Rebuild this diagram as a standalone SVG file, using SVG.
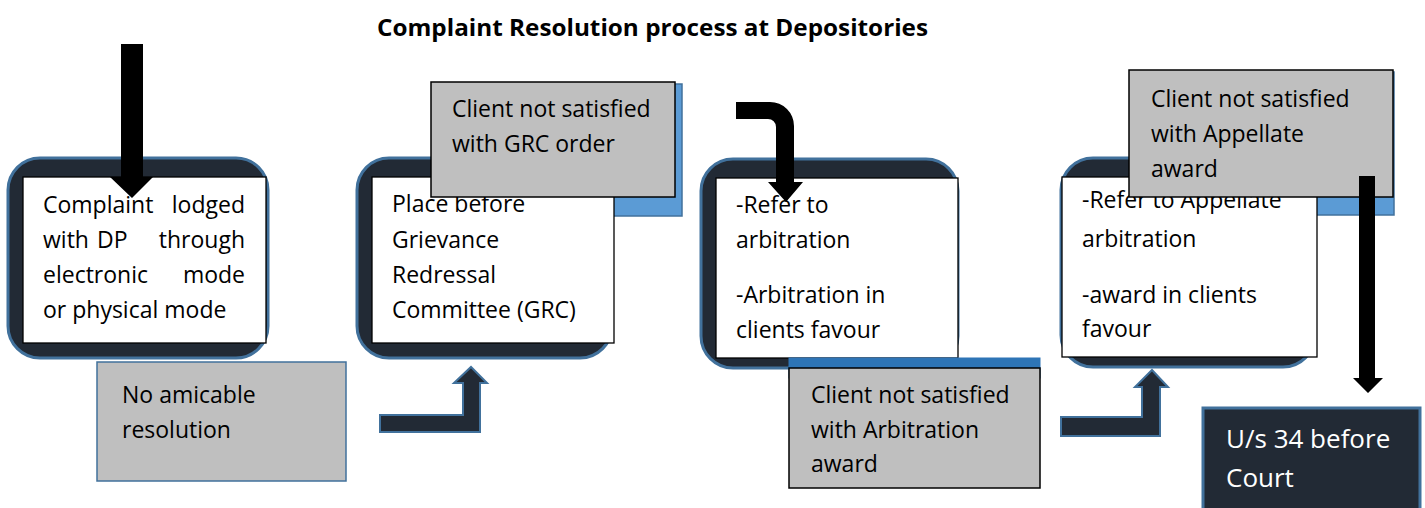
<svg xmlns="http://www.w3.org/2000/svg" width="1425" height="508" viewBox="0 0 1425 508">
<style>
.bg{fill:#ffffff}
.dark{fill:#222a35;stroke:#41719c;stroke-width:3}
.white{fill:#ffffff;stroke:#000000;stroke-width:1.3}
.gray{fill:#bfbfbf;stroke:#000000;stroke-width:1.5}
.grayb{fill:#bfbfbf;stroke:#41719c;stroke-width:1.5}
.shadow{fill:#5b9bd5;stroke:#41719c;stroke-width:1.5}
.t{font-family:"Open Sans","Liberation Sans",sans-serif;font-size:23px;fill:#000000}
.tw{font-family:"Open Sans","Liberation Sans",sans-serif;font-size:26px;fill:#ffffff}
.title{font-family:"Open Sans","Liberation Sans",sans-serif;font-size:23.5px;font-weight:700;fill:#000000}
.blk{fill:#000000}
.darr{fill:#222a35;stroke:#41719c;stroke-width:2}
</style>
<rect class="bg" x="0" y="0" width="1425" height="508"/>
<text class="title" x="377" y="36" textLength="551" lengthAdjust="spacingAndGlyphs">Complaint Resolution process at Depositories</text>

<g id="node1">
<rect class="dark" x="8" y="158" width="260" height="200" rx="32" ry="32"/>
<rect class="white" x="23" y="177" width="243" height="166"/>
<text class="t" x="43" y="213">Complaint</text>
<text class="t" x="245" y="213" text-anchor="end">lodged</text>
<text class="t" x="43" y="248">with</text>
<text class="t" x="97" y="248">DP</text>
<text class="t" x="245" y="248" text-anchor="end">through</text>
<text class="t" x="43" y="283">electronic</text>
<text class="t" x="245" y="283" text-anchor="end">mode</text>
<text class="t" x="43" y="318">or physical mode</text>
</g>

<g id="node-no-amicable">
<rect class="grayb" x="97" y="362" width="249" height="119"/>
<text class="t" x="122" y="403">No amicable</text>
<text class="t" x="122" y="438">resolution</text>
</g>

<g id="node2">
<rect class="dark" x="357" y="158" width="255" height="200" rx="32" ry="32"/>
<rect class="shadow" x="437" y="84" width="245" height="132"/>
<rect class="white" x="372" y="177" width="242" height="166"/>
<text class="t" x="392" y="212">Place before</text>
<text class="t" x="392" y="248">Grievance</text>
<text class="t" x="392" y="283">Redressal</text>
<text class="t" x="392" y="318">Committee (GRC)</text>
</g>

<g id="node-grc-order">
<rect class="gray" x="431" y="82" width="244" height="115"/>
<text class="t" x="452" y="117">Client not satisfied</text>
<text class="t" x="452" y="152">with GRC order</text>
</g>

<g id="node3">
<rect class="dark" x="701" y="159" width="257" height="209" rx="32" ry="32"/>
<rect class="white" x="716" y="178" width="242" height="180"/>
<text class="t" x="736" y="213">-Refer to</text>
<text class="t" x="736" y="248">arbitration</text>
<text class="t" x="736" y="303">-Arbitration in</text>
<text class="t" x="736" y="338">clients favour</text>
</g>

<g id="node-arb-award">
<rect x="789" y="358" width="251" height="20" fill="#2e75b6" stroke="#2e75b6" stroke-width="1"/>
<rect class="gray" x="789" y="368" width="251" height="120"/>
<text class="t" x="811" y="403">Client not satisfied</text>
<text class="t" x="811" y="438">with Arbitration</text>
<text class="t" x="811" y="472">award</text>
</g>

<g id="node4">
<rect class="dark" x="1061" y="158" width="254" height="209" rx="32" ry="32"/>
<rect class="shadow" x="1135" y="72" width="259" height="143"/>
<rect class="white" x="1062" y="177" width="255" height="180"/>
<text class="t" x="1082" y="208">-Refer to Appellate</text>
<text class="t" x="1082" y="247">arbitration</text>
<text class="t" x="1082" y="303">-award in clients</text>
<text class="t" x="1082" y="337">favour</text>
</g>

<g id="node-appellate-award">
<rect class="gray" x="1129" y="70" width="264" height="127"/>
<text class="t" x="1151" y="107">Client not satisfied</text>
<text class="t" x="1151" y="142">with Appellate</text>
<text class="t" x="1151" y="177">award</text>
</g>

<g id="node-court">
<rect x="1203" y="408" width="217" height="110" fill="#222a35" stroke="#41719c" stroke-width="3"/>
<text class="tw" x="1226" y="448">U/s 34 before</text>
<text class="tw" x="1226" y="487">Court</text>
</g>

<g id="connectors">
<path class="blk" d="M121,44 H143 V177 H153 L132,198 L110,177 H121 Z"/>
<path class="darr" d="M380,415 H463 V383 H454 L471,367 L487,383 H480 V432 H380 Z"/>
<path class="blk" d="M736,102 H770 A24,24 0 0 1 794,126 V182 H803 L786,202 L768,182 H776 V127 A8,8 0 0 0 768,119 H736 Z"/>
<path class="darr" d="M1061,417 H1142 V387 H1135 L1152,370 L1168,387 H1160 V436 H1061 Z"/>
<path class="blk" d="M1359,176 H1375 V378 H1383 L1368,393 L1353,378 H1359 Z"/>
</g>
</svg>
